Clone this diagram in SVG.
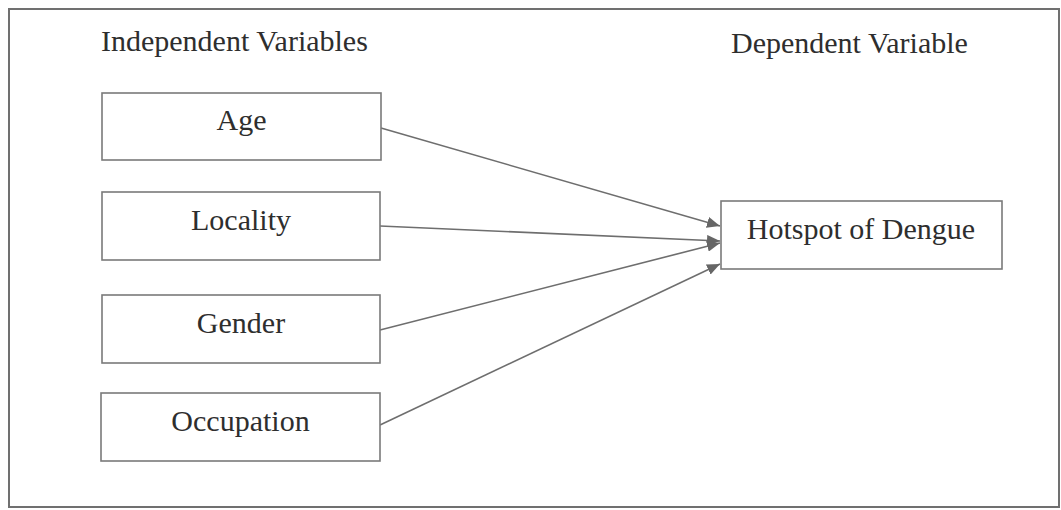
<svg xmlns="http://www.w3.org/2000/svg" width="1061" height="510" viewBox="0 0 1061 510">
<defs>
<style>
.frame{fill:none;stroke:#707070;stroke-width:2}
.box{fill:#fff;stroke:#7a7a7a;stroke-width:1.6}
.t{font-family:"Liberation Serif","Times New Roman",serif;font-size:30px;fill:#2e2e2e}
.c{text-anchor:middle}
.edge{fill:none;stroke:#6e6e6e;stroke-width:1.6}
</style>
<marker id="ah" viewBox="0 0 13 11" refX="13" refY="5.5" markerWidth="13" markerHeight="11" markerUnits="userSpaceOnUse" orient="auto">
<path d="M0,0 L13,5.5 L0,11 Z" fill="#666"/>
</marker>
</defs>
<rect width="1061" height="510" fill="#fff"/>
<rect class="frame" x="9" y="9" width="1050" height="498"/>
<text class="t" x="101" y="51">Independent Variables</text>
<text class="t" x="731" y="53">Dependent Variable</text>
<g id="connectors">
<line class="edge" x1="381" y1="128" x2="720" y2="226" marker-end="url(#ah)"/>
<line class="edge" x1="380" y1="226" x2="720" y2="241" marker-end="url(#ah)"/>
<line class="edge" x1="380" y1="330" x2="720" y2="243" marker-end="url(#ah)"/>
<line class="edge" x1="380" y1="425" x2="720" y2="264" marker-end="url(#ah)"/>
</g>
<g id="age">
<rect class="box" x="102" y="93" width="279" height="67"/>
<text class="t c" x="241.5" y="130">Age</text>
</g>
<g id="locality">
<rect class="box" x="102" y="192" width="278" height="68"/>
<text class="t c" x="241" y="230">Locality</text>
</g>
<g id="gender">
<rect class="box" x="102" y="295" width="278" height="68"/>
<text class="t c" x="241" y="333">Gender</text>
</g>
<g id="occupation">
<rect class="box" x="101" y="393" width="279" height="68"/>
<text class="t c" x="240.5" y="431">Occupation</text>
</g>
<g id="hotspot">
<rect class="box" x="721" y="201" width="281" height="68"/>
<text class="t c" x="861" y="239">Hotspot of Dengue</text>
</g>
</svg>
